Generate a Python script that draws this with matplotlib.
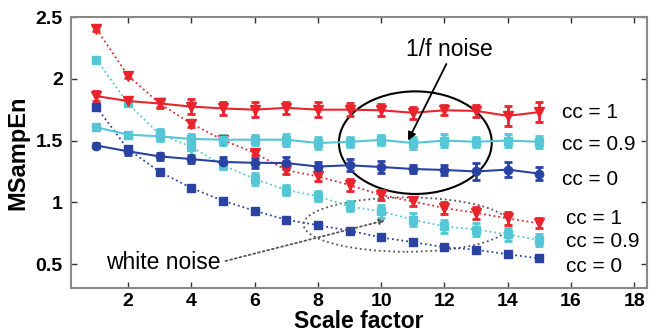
import matplotlib.pyplot as plt
from matplotlib.patches import Ellipse
import numpy as np

plt.rcParams['font.family'] = ['Liberation Sans', 'DejaVu Sans']

# Data
scale = np.arange(1, 16)

# 1/f noise
f_cc1 = [1.86, 1.82, 1.80, 1.775, 1.76, 1.75, 1.765, 1.75, 1.75, 1.745, 1.725, 1.745, 1.74, 1.70, 1.73]
f_cc1_err = [0.04, 0.03, 0.04, 0.06, 0.05, 0.06, 0.05, 0.06, 0.05, 0.05, 0.05, 0.04, 0.05, 0.08, 0.08]
f_cc09 = [1.607, 1.548, 1.534, 1.513, 1.507, 1.507, 1.507, 1.48, 1.49, 1.505, 1.48, 1.50, 1.49, 1.50, 1.49]
f_cc09_err = [0.02, 0.02, 0.04, 0.04, 0.04, 0.04, 0.05, 0.05, 0.04, 0.04, 0.05, 0.05, 0.04, 0.05, 0.05]
f_cc0 = [1.46, 1.413, 1.372, 1.35, 1.327, 1.32, 1.318, 1.29, 1.30, 1.286, 1.27, 1.262, 1.25, 1.265, 1.232]
f_cc0_err = [0.02, 0.03, 0.03, 0.03, 0.04, 0.04, 0.05, 0.04, 0.05, 0.05, 0.03, 0.04, 0.07, 0.06, 0.05]

# white noise
w_cc1 = [2.404, 2.026, 1.80, 1.637, 1.505, 1.40, 1.26, 1.21, 1.14, 1.06, 1.007, 0.954, 0.915, 0.87, 0.83]
w_cc1_err = [0.02, 0.02, 0.03, 0.03, 0.02, 0.02, 0.03, 0.04, 0.05, 0.04, 0.04, 0.05, 0.05, 0.05, 0.04]
w_cc09 = [2.156, 1.80, 1.55, 1.45, 1.30, 1.19, 1.10, 1.05, 0.967, 0.926, 0.86, 0.805, 0.78, 0.74, 0.695]
w_cc09_err = [0.02, 0.02, 0.04, 0.08, 0.03, 0.05, 0.04, 0.04, 0.04, 0.05, 0.05, 0.05, 0.05, 0.05, 0.05]
w_cc0 = [1.772, 1.43, 1.248, 1.116, 1.013, 0.932, 0.859, 0.815, 0.77, 0.716, 0.678, 0.637, 0.616, 0.58, 0.546]
w_cc0_err = [0.02] * 15

red = '#E8242C'
cyan = '#55C6D6'
blue = '#2A43A3'

fig = plt.figure(figsize=(6.49, 3.35), dpi=100)
ax = fig.add_axes([71/649, 1-287.6/335, 576/649, 270.6/335])

# white noise (dotted)
for y, e, c, m, ms in [(w_cc0, w_cc0_err, blue, 's', 6),
                       (w_cc09, w_cc09_err, cyan, 's', 6),
                       (w_cc1, w_cc1_err, red, 'v', 7)]:
    ax.errorbar(scale, y, yerr=e, color=c, ls=':', lw=1.3, marker=m, ms=ms,
                elinewidth=2, capsize=3, capthick=2)

# 1/f noise (solid)
for y, e, c, m, ms in [(f_cc0, f_cc0_err, blue, 'o', 6),
                       (f_cc09, f_cc09_err, cyan, 's', 6),
                       (f_cc1, f_cc1_err, red, 'v', 7)]:
    ax.errorbar(scale, y, yerr=e, color=c, ls='-', lw=1.5, marker=m, ms=ms,
                elinewidth=2, capsize=3, capthick=2)

# annotations
ax.add_patch(Ellipse((11.08, 1.483), 4.83, 0.83, fill=False, ec='black', lw=1.5))
ax.annotate('', xy=(10.81, 1.48), xytext=(12.1, 2.14),
            arrowprops=dict(arrowstyle='-|>', color='black', lw=1.3, mutation_scale=12))
ax.text(12.17, 2.24, '1/f noise', fontsize=16.5, ha='center', va='center')

ax.add_patch(Ellipse((10.8, 0.82), 6.5, 0.44, fill=False, ec='#555555', lw=1.3, ls=':'))
ax.annotate('', xy=(10.21, 0.86), xytext=(5.0, 0.52),
            arrowprops=dict(arrowstyle='-|>', color='#555555', lw=1.3, ls=':',
                            mutation_scale=8))
ax.text(1.32, 0.51, 'white noise', fontsize=16.5, ha='left', va='center')

for ty, lab in [(1.725, 'cc = 1'), (1.467, 'cc = 0.9'), (1.183, 'cc = 0')]:
    ax.text(15.73, ty, lab, fontsize=15, ha='left', va='center')
for ty, lab in [(0.867, 'cc = 1'), (0.68, 'cc = 0.9'), (0.478, 'cc = 0')]:
    ax.text(15.85, ty, lab, fontsize=15, ha='left', va='center')

ax.set_xlim(0.2, 18.4)
ax.set_ylim(0.31, 2.5)
ax.set_xticks(np.arange(2, 19, 2))
ax.set_yticks([0.5, 1, 1.5, 2, 2.5])
ax.set_yticklabels(['0.5', '1', '1.5', '2', '2.5'])
ax.tick_params(direction='in', top=True, right=True, length=4, width=1,
               color='#333333', labelsize=14)
ax.tick_params(axis='x', pad=4)
ax.tick_params(axis='y', pad=6)
for lbl in ax.get_xticklabels() + ax.get_yticklabels():
    lbl.set_fontweight('bold')
for s in ax.spines.values():
    s.set_color('#888888')
    s.set_linewidth(1.5)

ax.set_xlabel('Scale factor', fontsize=16.5, fontweight='bold', labelpad=0)
ax.set_ylabel('MSampEn', fontsize=17, fontweight='bold', labelpad=4)

fig.savefig('out.png', dpi=100)
